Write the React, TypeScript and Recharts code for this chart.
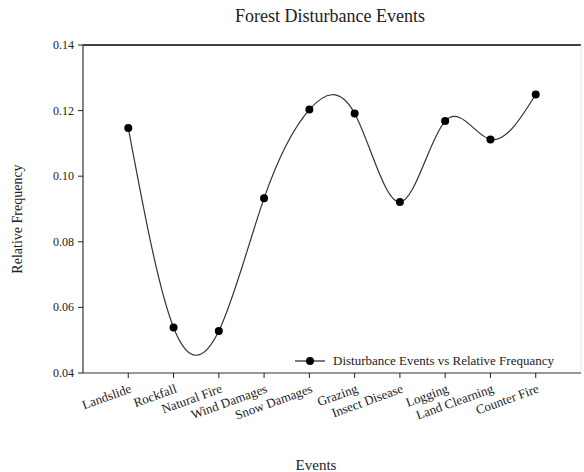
import { Label, Legend, Line, LineChart, ReferenceLine, XAxis, YAxis } from "recharts";

const events = [
  "Landslide",
  "Rockfall",
  "Natural Fire",
  "Wind Damages",
  "Snow Damages",
  "Grazing",
  "Insect Disease",
  "Logging",
  "Land Clearning",
  "Counter Fire",
];
const relativeFrequency = [0.1147, 0.0539, 0.0528, 0.0933, 0.1203, 0.1191, 0.0921, 0.1168, 0.1112, 0.1249];
const yTicks = [0.04, 0.06, 0.08, 0.1, 0.12, 0.14];
const xTicks = [1, 2, 3, 4, 5, 6, 7, 8, 9, 10];

const FONT = '"Liberation Serif", "Times New Roman", serif';
const INK = "#222";

const data = events.map((name, i) => ({ x: i + 1, name, y: relativeFrequency[i] }));

function EventTick({ x, y, payload }: any) {
  const label = events[payload.value - 1] ?? "";
  return (
    <text
      x={x + 4}
      y={y + 12}
      textAnchor="end"
      transform={`rotate(-20 ${x + 4} ${y + 12})`}
      fontFamily={FONT}
      fontSize={13}
      fill={INK}
    >
      {label}
    </text>
  );
}

function FreqTick({ x, y, payload }: any) {
  return (
    <text x={x - 2} y={y + 4} textAnchor="end" fontFamily={FONT} fontSize={12} fill={INK}>
      {Number(payload.value).toFixed(2)}
    </text>
  );
}

function LegendBox() {
  return (
    <svg width={290} height={20} style={{ display: "block" }}>
      <line x1={0} y1={10} x2={30} y2={10} stroke={INK} strokeWidth={1.2} />
      <circle cx={15} cy={10} r={4} fill="#000" />
      <text x={38} y={14} fontFamily={FONT} fontSize={13} fill={INK}>
        Disturbance Events vs Relative Frequancy
      </text>
    </svg>
  );
}

export default function App() {
  return (
    <div style={{ position: "absolute", left: 0, top: 0, width: 584, height: 472, background: "#fff" }}>
      <div
        style={{
          position: "absolute",
          left: 0,
          width: 660,
          top: 6,
          textAlign: "center",
          fontFamily: FONT,
          fontSize: 18,
          color: INK,
        }}
      >
        Forest Disturbance Events
      </div>
      <LineChart width={584} height={472} data={data} margin={{ top: 45, right: 3, bottom: 0, left: 0 }}>
        <XAxis
          dataKey="x"
          type="number"
          domain={[0, 11]}
          ticks={xTicks}
          interval={0}
          height={79}
          tick={<EventTick />}
          tickSize={5}
          stroke={INK}
          tickLine={{ stroke: INK }}
          axisLine={{ stroke: "#333", strokeWidth: 1.2 }}
        >
          <Label
            content={() => (
              <text x={316} y={470} textAnchor="middle" fontFamily={FONT} fontSize={15} fill={INK}>
                Events
              </text>
            )}
          />
        </XAxis>
        <YAxis
          type="number"
          domain={[0.04, 0.14]}
          ticks={yTicks}
          width={83}
          tickSize={5}
          tick={<FreqTick />}
          tickLine={{ stroke: INK }}
          axisLine={{ stroke: "#333", strokeWidth: 1.2 }}
        >
          <Label
            content={() => (
              <text
                x={22}
                y={219}
                textAnchor="middle"
                transform="rotate(-90 22 219)"
                fontFamily={FONT}
                fontSize={14}
                fill={INK}
              >
                Relative Frequency
              </text>
            )}
          />
        </YAxis>
        <ReferenceLine y={0.14} stroke="#000" strokeWidth={1.5} ifOverflow="extendDomain" />
        <ReferenceLine x={11} stroke="#e6e6e6" strokeWidth={1} />
        <Legend
          content={<LegendBox />}
          wrapperStyle={{ position: "absolute", left: 295, top: 351, width: 290, bottom: "auto" }}
        />
        <Line
          type="natural"
          dataKey="y"
          stroke="#333"
          strokeWidth={1.2}
          dot={{ r: 4, fill: "#000", stroke: "#000", strokeWidth: 0 }}
          activeDot={false}
          isAnimationActive={false}
        />
      </LineChart>
    </div>
  );
}
